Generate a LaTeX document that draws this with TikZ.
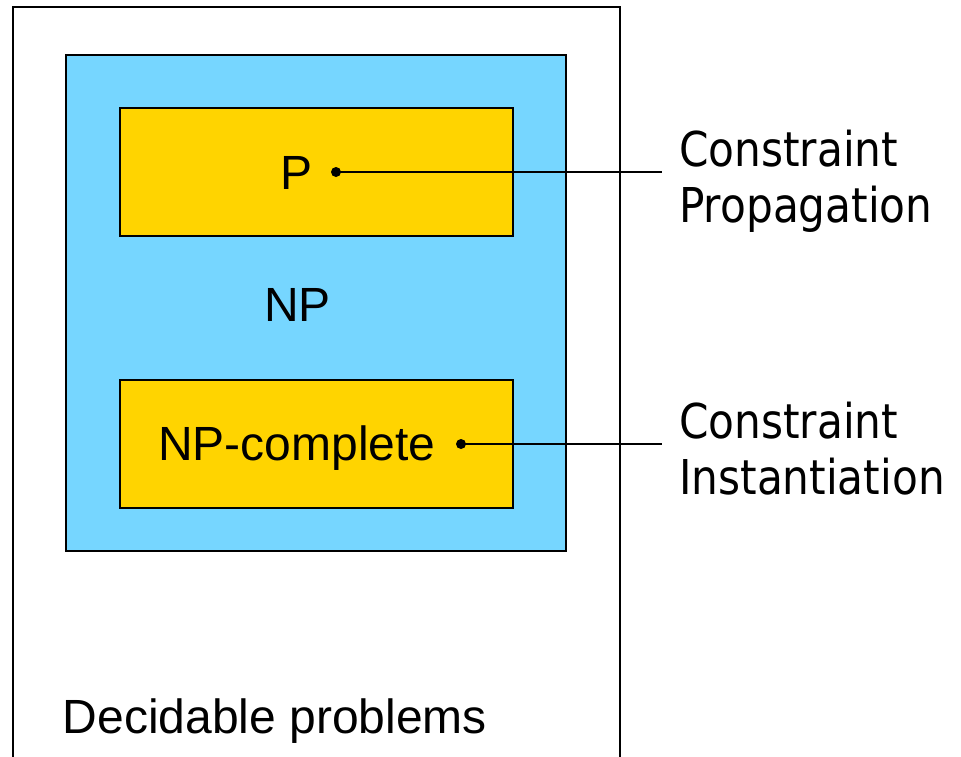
\documentclass[tikz,border=0pt]{standalone}
\usepackage{fontspec}
\setmainfont{Liberation Sans}
\newfontfamily\sidefont[FakeStretch=0.88]{DejaVu Sans}
\definecolor{npblue}{RGB}{118,214,255}
\definecolor{pyellow}{RGB}{255,212,0}
\tikzset{
  classbox/.style={draw=black, line width=2pt, inner sep=0pt},
  classlabel/.style={inner sep=0pt, font=\fontsize{48}{56}\selectfont},
  sidelabel/.style={inner sep=0pt, align=left, anchor=base west,
    font=\sidefont\fontsize{48}{56}\selectfont},
  pin dot/.style={circle, fill=black, inner sep=0pt, minimum size=10pt},
  pin line/.style={line width=2pt}
}
\begin{document}
\begin{tikzpicture}[x=1pt, y=-1pt]
  \useasboundingbox (0,0) rectangle (961,756);
  % decidable problems: open at the bottom
  \draw[line width=2pt] (12.5,770) -- (12.5,7) -- (620,7) -- (620,770);
  % NP and its two subclasses
  \node[classbox, fill=npblue, minimum width=500pt, minimum height=496pt] (np) at (316,302.5) {};
  \node[classbox, fill=pyellow, minimum width=393pt, minimum height=128pt] (p) at (316.5,172) {};
  \node[classbox, fill=pyellow, minimum width=393pt, minimum height=128pt] (npc) at (316.5,444) {};
  % class names
  \node[classlabel, anchor=base] (plabel) at (297,189) {P};
  \node[classlabel, anchor=base] (nplabel) at (297.5,321) {NP};
  \node[classlabel, anchor=base west] (npclabel) at (158,460) {NP-complete};
  \node[classlabel, anchor=base west] (declabel) at (62.5,733.5) {Decidable problems};
  % pins to the solving techniques
  \node[pin dot] (pdot) at (336,172) {};
  \node[pin dot] (npcdot) at (461,444) {};
  \coordinate (pend) at (662,172);
  \coordinate (npcend) at (662,444);
  \draw[pin line] (pdot.center) -- (pend);
  \draw[pin line] (npcdot.center) -- (npcend);
  % the base anchor of a two-line label sits on its last line
  \node[sidelabel] (cprop) at (679,222) {Constraint\\Propagation};
  \node[sidelabel] (cinst) at (679,494) {Constraint\\Instantiation};
\end{tikzpicture}
\end{document}
